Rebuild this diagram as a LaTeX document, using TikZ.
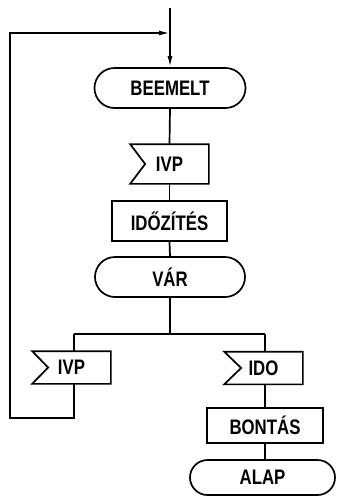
\documentclass[tikz,border=0pt]{standalone}
\usepackage{fontspec}
\newfontfamily\lblfont{Liberation Sans Bold}[FakeStretch=0.8]
\usetikzlibrary{shapes.misc,arrows.meta}
\begin{document}
\begin{tikzpicture}[x=1pt,y=-1pt,line width=1.7pt,
  every node/.style={font=\lblfont\fontsize{21}{24}\selectfont,inner sep=0pt},
  term/.style={rounded rectangle,draw,minimum height=40pt},
  proc/.style={rectangle,draw,minimum height=40pt},
  sigbox/.style={rectangle,minimum height=38pt,minimum width=77pt},
  arr/.style={-{Latex[length=11pt,width=5pt]}}]
\useasboundingbox (0,0) rectangle (337,504);
% nodes
\node[term,minimum width=151pt] (beemelt) at (170,88) {BEEMELT};
\node[sigbox] (ivp1) at (169.5,164) {IVP};
\node[proc,minimum width=115pt] (idozites) at (169.5,221) {IDŐZÍTÉS};
\node[term,minimum width=150pt] (var) at (170,277) {VÁR};
\node[sigbox,minimum height=31pt] (ivp2) at (71.5,367.5) {IVP};
\node[sigbox,minimum height=31pt] (ido) at (263.5,368) {IDO};
\node[proc,minimum width=116pt,minimum height=35pt] (bontas) at (265,425.5) {BONTÁS};
\node[term,minimum width=145pt,minimum height=35pt] (alap) at (262.5,477.5) {ALAP};
% signal outlines
\foreach \n/\d in {ivp1/15,ivp2/16,ido/17}
  \draw (\n.north west) -- (\n.north east) -- (\n.south east) -- (\n.south west) -- ([xshift=\d pt]\n.west) -- cycle;
% coordinates
\coordinate (top) at (170,8);
\coordinate (join) at (170,33);
\coordinate (split) at (170,334);
\coordinate (bl) at (74,334);
\coordinate (br) at (265,334);
\coordinate (l1) at (74,418);
\coordinate (l2) at (10,418);
\coordinate (l3) at (10,33);
% connectors
\draw (top) -- (join);
\draw[arr] (join) -- (beemelt.north);
\draw (beemelt.south) -- (ivp1.north);
\draw (ivp1.south) -- (idozites.north);
\draw (idozites.south) -- (var.north);
\draw (var.south) -- (split);
\draw (bl) -- (br);
\draw (bl) -- (bl |- ivp2.north);
\draw (br) -- (br |- ido.north);
\draw[arr] (bl |- ivp2.south) -- (l1) -- (l2) -- (l3) -- (join);
\draw (br |- ido.south) -- (br |- bontas.north);
\draw (br |- bontas.south) -- (br |- alap.north);
\end{tikzpicture}
\end{document}
